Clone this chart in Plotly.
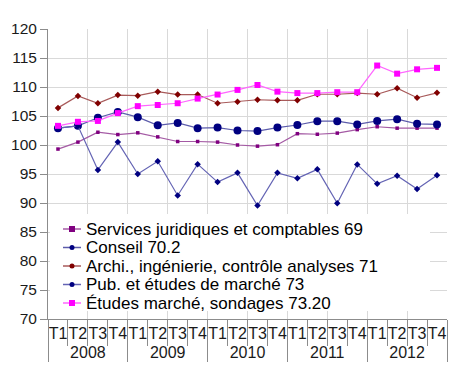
import plotly.graph_objects as go

years = ["2008", "2009", "2010", "2011", "2012"]
quarters = ["T1", "T2", "T3", "T4"]

services = [99.3, 100.5, 102.2, 101.8, 102.1, 101.4, 100.6, 100.6, 100.5, 100.0,
            99.8, 100.05, 101.95, 101.85, 102.05, 102.65, 103.15, 102.9, 102.9, 102.9]
conseil = [102.9, 103.3, 104.7, 105.7, 104.8, 103.4, 103.8, 102.9, 103.0, 102.5,
           102.4, 103.0, 103.45, 104.1, 104.1, 103.55, 104.15, 104.45, 103.65, 103.55]
archi = [106.4, 108.45, 107.2, 108.6, 108.5, 109.2, 108.7, 108.7, 107.2, 107.45,
         107.8, 107.7, 107.7, 108.75, 108.75, 108.95, 108.75, 109.8, 108.15, 109.0]
pub = [102.9, 103.3, 95.7, 100.5, 95.0, 97.2, 91.3, 96.7, 93.6, 95.2,
       89.55, 95.2, 94.25, 95.8, 89.95, 96.65, 93.3, 94.7, 92.4, 94.8]
etudes = [103.3, 104.0, 104.15, 105.5, 106.7, 106.9, 107.2, 108.0, 108.7, 109.5,
          110.35, 109.2, 108.95, 108.95, 109.1, 109.1, 113.7, 112.3, 113.05, 113.3]

names = ["Services juridiques et comptables 69", "Conseil 70.2",
         "Archi., ingénierie, contrôle analyses 71", "Pub. et études de marché 73",
         "Études marché, sondages 73.20"]

x_years = [y for y in years for _ in quarters]
x_quarters = [q for _ in years for q in quarters]
n_cat = len(x_quarters)

FONT = "Liberation Sans, Arial, sans-serif"
series = [
    (services, names[0], "#a45aa4", "#800080", "square", 3.5),
    (conseil, names[1], "#5c5cab", "#000080", "circle", 8),
    (archi, names[2], "#a85a5a", "#800000", "diamond", 5),
    (pub, names[3], "#6464b4", "#000080", "diamond", 5),
    (etudes, names[4], "#ff66ff", "#ff00ff", "square", 6),
]

fig = go.Figure()
# helper trace for the overlay axis (gridlines every two quarters + quarter separators)
fig.add_trace(go.Scatter(x=[0, n_cat], y=[80, 80], xaxis="x2", yaxis="y", mode="lines",
                         line=dict(width=0), opacity=0, showlegend=False, hoverinfo="skip"))

for vals, name, lc, mc, sym, ms in series:
    fig.add_trace(go.Scatter(
        x=[x_years, x_quarters], y=vals, name=name, mode="lines+markers",
        line=dict(color=lc, width=1.2),
        marker=dict(color=mc, symbol=sym, size=ms, line=dict(width=0)),
        showlegend=False,
    ))

W, H = 450, 389
L, R, T, B = 48, 3, 29, 70
pw, ph = W - L - R, H - T - B

def px_x(p):
    return (p - L) / pw

def px_y(p):
    return (H - B - p) / ph

shapes = [dict(type="rect", xref="paper", yref="paper",
               x0=px_x(50), x1=px_x(430), y0=px_y(311), y1=px_y(214),
               fillcolor="white", line=dict(width=0), layer="above")]
annotations = []
row_y = [229, 247.5, 266, 284.5, 303]
for (vals, name, lc, mc, sym, ms), ry in zip(series, row_y):
    shapes.append(dict(type="line", xref="paper", yref="paper",
                       x0=px_x(63), x1=px_x(81), y0=px_y(ry), y1=px_y(ry),
                       line=dict(color=lc, width=1.5), layer="above"))
    r = 2.5 if sym != "square" else 3
    shapes.append(dict(type="rect" if sym == "square" else "circle",
                       xref="paper", yref="paper",
                       x0=px_x(72 - r), x1=px_x(72 + r), y0=px_y(ry + r), y1=px_y(ry - r),
                       fillcolor=mc, line=dict(width=0), layer="above"))
    annotations.append(dict(text=name, xref="paper", yref="paper", x=px_x(85), y=px_y(ry),
                            xanchor="left", yanchor="middle", showarrow=False, borderpad=0,
                            font=dict(family=FONT, size=17, color="#000000")))

fig.update_layout(
    width=W, height=H, autosize=False,
    margin=dict(l=L, r=R, t=T, b=B, pad=0, autoexpand=False),
    paper_bgcolor="white", plot_bgcolor="white",
    font=dict(family=FONT, color="#1a1a1a"),
    showlegend=False,
    shapes=shapes, annotations=annotations,
    xaxis=dict(type="multicategory", range=[-0.5, n_cat - 0.5], autorange=False,
               showgrid=False, showline=True, linecolor="#8c8c8c",
               linewidth=1, ticks="outside", ticklen=20, tickcolor="rgba(0,0,0,0)",
               tickangle=0, automargin=False,
               showdividers=True, dividercolor="#8c8c8c", dividerwidth=1,
               tickfont=dict(family=FONT, size=16, color="#1a1a1a"), zeroline=False),
    xaxis2=dict(overlaying="x", side="bottom", range=[0, n_cat], autorange=False,
                showticklabels=False,
                showgrid=True, gridcolor="#d9d9d9", gridwidth=1, tick0=0, dtick=2,
                ticks="outside", ticklen=26, tickcolor="#8c8c8c", automargin=False,
                minor=dict(dtick=1, tick0=0, ticks="outside", ticklen=26, tickcolor="#8c8c8c",
                           showgrid=False),
                showline=False, zeroline=False, fixedrange=True),
    yaxis=dict(range=[70, 120], dtick=5, tick0=70, showgrid=True, gridcolor="#d9d9d9",
               showline=True, linecolor="#8c8c8c", ticks="outside", ticklen=7,
               tickcolor="#8c8c8c", zeroline=False, automargin=False,
               tickfont=dict(family=FONT, size=15.5, color="#1a1a1a")),
)

fig.write_html(
    "out.html",
    config={"responsive": False, "displayModeBar": False},
    post_script="document.body.style.margin='0';document.body.style.overflow='hidden';",
)
